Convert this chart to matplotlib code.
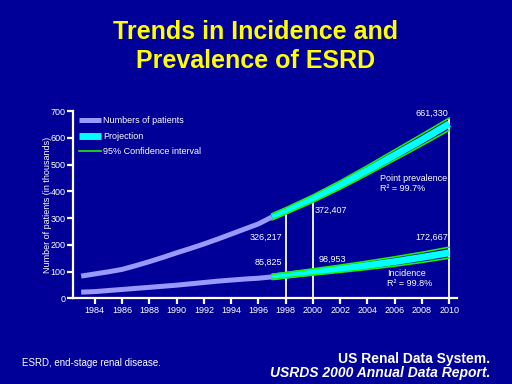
import numpy as np
import matplotlib
matplotlib.use("Agg")
import matplotlib.pyplot as plt

# observed data (thousands of patients)
years_obs = [1983, 1984, 1985, 1986, 1987, 1988, 1989, 1990, 1991, 1992,
             1993, 1994, 1995, 1996, 1997]
prev_obs = [83, 91, 99, 108, 122, 137, 153, 170, 186, 203, 221, 240, 259, 278, 304]
inc_obs = [23, 25, 29, 33, 37, 41, 45, 49, 54, 59, 64, 68, 72, 75, 80]

# projections with 95% confidence interval
years_proj = [1997, 1998, 2000, 2002, 2004, 2006, 2008, 2010]
prev_proj = [304, 326, 372, 423, 478, 535, 592, 652]
prev_hi = [316, 338, 386, 439, 496, 555, 614, 674]
prev_lo = [293, 315, 359, 408, 461, 516, 571, 628]
inc_proj = [80, 86, 98, 110, 123, 137, 153, 170]
inc_hi = [89, 96, 110, 124, 139, 155, 172, 191]
inc_lo = [71, 77, 87, 97, 108, 120, 134, 150]

# marked years
mark_years = [1998, 2000, 2010]
mark_vals = [335, 380, 672]

BG = "#000099"
PURPLE = "#9999ff"
CYAN = "#00ffff"
GREEN = "#22ee00"

plt.rcParams['font.family'] = ['Liberation Sans', 'DejaVu Sans']

fig = plt.figure(figsize=(5.12, 3.84), dpi=100, facecolor=BG)
ax = fig.add_axes([0.1426, 0.2232, 0.7494, 0.4877])
ax.set_facecolor(BG)

ax.vlines(mark_years, 0, mark_vals, colors="white", lw=1.3, zorder=1)

ax.plot(years_obs, prev_obs, color=PURPLE, lw=3.6, solid_capstyle="butt",
        label="Numbers of patients", zorder=3)
ax.plot(years_obs, inc_obs, color=PURPLE, lw=3.6, solid_capstyle="butt", zorder=3)
ax.plot(years_proj, prev_proj, color=CYAN, lw=5, solid_capstyle="butt",
        label="Projection", zorder=4)
ax.plot(years_proj, inc_proj, color=CYAN, lw=5, solid_capstyle="butt", zorder=4)
ax.plot(years_proj, prev_hi, color=GREEN, lw=1.2, label="95% Confidence interval", zorder=5)
ax.plot(years_proj, prev_lo, color=GREEN, lw=1.2, zorder=5)
ax.plot(years_proj, inc_hi, color=GREEN, lw=1.2, zorder=5)
ax.plot(years_proj, inc_lo, color=GREEN, lw=1.2, zorder=5)

ax.set_xlim(1982.4, 2010.55)
ax.set_ylim(0, 700)
ax.set_xticks(range(1984, 2011, 2))
ax.set_yticks(range(0, 701, 100))
for s in ["top", "right"]:
    ax.spines[s].set_visible(False)
for s in ["left", "bottom"]:
    ax.spines[s].set_color("white")
    ax.spines[s].set_linewidth(1.6)
ax.tick_params(colors="white", labelsize=6.5, width=1.6, length=4, pad=1.5)
ax.set_ylabel("Number of patients (in thousands)", color="white", fontsize=6.5, labelpad=-1)

leg = ax.legend(loc="upper left", frameon=False, fontsize=6.5, handlelength=2.4,
                handletextpad=0.2, labelspacing=0.7, borderaxespad=0.3,
                bbox_to_anchor=(0.0, 1.005))
for t in leg.get_texts():
    t.set_color("white")

tk = dict(color="white", fontsize=6.5)
ax.text(2008.7, 675, "661,330", ha="center", va="bottom", **tk)
ax.text(2004.95, 430, "Point prevalence\nR\u00b2 = 99.7%", ha="left", va="center",
        linespacing=1.1, **tk)
ax.text(2000.1, 330, "372,407", ha="left", va="center", **tk)
ax.text(1997.75, 228, "326,217", ha="right", va="center", **tk)
ax.text(1997.75, 135, "85,825", ha="right", va="center", **tk)
ax.text(2000.4, 144, "98,953", ha="left", va="center", **tk)
ax.text(2008.75, 228, "172,667", ha="center", va="center", **tk)
ax.text(2005.45, 74, "Incidence\nR\u00b2 = 99.8%", ha="left", va="center",
        linespacing=1.1, **tk)

fig.text(0.5, 0.878, "Trends in Incidence and\nPrevalence of ESRD", ha="center",
         va="center", color="#ffff00", fontsize=18, fontweight="bold", linespacing=1.27)
fig.text(0.043, 0.055, "ESRD, end-stage renal disease.", color="white", fontsize=7,
         ha="left", va="center")
fig.text(0.957, 0.065, "US Renal Data System.", color="white", fontsize=10,
         fontweight="bold", ha="right", va="center")
fig.text(0.957, 0.028, "USRDS 2000 Annual Data Report.", color="white", fontsize=10,
         fontweight="bold", fontstyle="italic", ha="right", va="center")

fig.savefig("out.png", dpi=100, facecolor=BG)
